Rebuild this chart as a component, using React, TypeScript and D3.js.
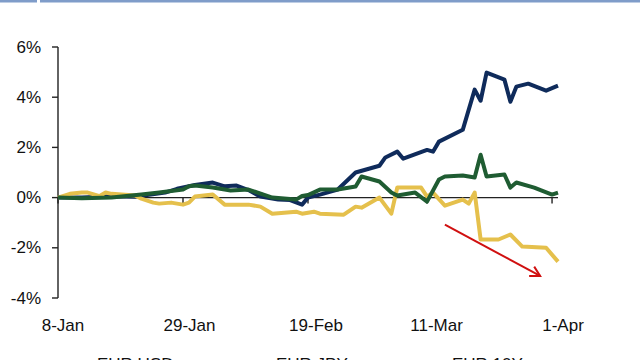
import React from "react";
import * as d3 from "d3";

const seriesNames = ["EUR USD", "EUR JPY", "EUR 10Y"];
const seriesColors = ["#0f2b5b", "#1f5c32", "#e5c04c"];

const xTickLabels = ["2019-01-08", "2019-01-29", "2019-02-19", "2019-03-11", "2019-04-01"];
const yTicks = [-4, -2, 0, 2, 4, 6];

const usdPoints: [string, number][] = [
  ["2019-01-08", 0], ["2019-01-12", 0.0], ["2019-01-17", 0.05], ["2019-01-21", 0.03],
  ["2019-01-23", 0.1], ["2019-01-26", 0.2], ["2019-01-28", 0.35], ["2019-01-31", 0.5],
  ["2019-02-03", 0.6], ["2019-02-05", 0.45], ["2019-02-07", 0.48], ["2019-02-09", 0.3],
  ["2019-02-11", 0.04], ["2019-02-14", -0.08], ["2019-02-16", -0.1], ["2019-02-18", -0.28],
  ["2019-02-19", 0.0], ["2019-02-21", 0.12], ["2019-02-24", 0.32], ["2019-02-27", 1.0],
  ["2019-03-03", 1.27], ["2019-03-04", 1.6], ["2019-03-06", 1.83], ["2019-03-07", 1.55],
  ["2019-03-11", 1.9], ["2019-03-12", 1.83], ["2019-03-13", 2.23], ["2019-03-17", 2.7],
  ["2019-03-19", 4.3], ["2019-03-20", 3.86], ["2019-03-21", 4.98], ["2019-03-24", 4.7],
  ["2019-03-25", 3.82], ["2019-03-26", 4.42], ["2019-03-28", 4.54], ["2019-03-31", 4.26],
  ["2019-04-02", 4.46],
];

const jpyPoints: [string, number][] = [
  ["2019-01-08", 0], ["2019-01-12", -0.03], ["2019-01-17", 0.0], ["2019-01-22", 0.12],
  ["2019-01-25", 0.2], ["2019-01-29", 0.32], ["2019-01-30", 0.45], ["2019-01-31", 0.48],
  ["2019-02-03", 0.4], ["2019-02-06", 0.28], ["2019-02-09", 0.32], ["2019-02-13", 0.0],
  ["2019-02-17", -0.08], ["2019-02-18", 0.06], ["2019-02-19", 0.1], ["2019-02-21", 0.32],
  ["2019-02-24", 0.32], ["2019-02-27", 0.44], ["2019-02-28", 0.84], ["2019-03-03", 0.64],
  ["2019-03-05", 0.2], ["2019-03-06", 0.08], ["2019-03-09", 0.2], ["2019-03-11", -0.16],
  ["2019-03-13", 0.72], ["2019-03-14", 0.84], ["2019-03-17", 0.88], ["2019-03-19", 0.8],
  ["2019-03-20", 1.71], ["2019-03-21", 0.84], ["2019-03-24", 0.92], ["2019-03-25", 0.4],
  ["2019-03-26", 0.6], ["2019-03-29", 0.4], ["2019-04-01", 0.12], ["2019-04-02", 0.2],
];

const tenYPoints: [string, number][] = [
  ["2019-01-08", 0], ["2019-01-10", 0.15], ["2019-01-12", 0.2], ["2019-01-13", 0.2],
  ["2019-01-15", 0.06], ["2019-01-16", 0.2], ["2019-01-17", 0.15], ["2019-01-21", 0.08],
  ["2019-01-22", -0.04], ["2019-01-24", -0.2], ["2019-01-25", -0.24], ["2019-01-27", -0.2],
  ["2019-01-29", -0.28], ["2019-01-30", -0.2], ["2019-01-31", 0.04], ["2019-02-03", 0.12],
  ["2019-02-05", -0.28], ["2019-02-09", -0.28], ["2019-02-11", -0.36], ["2019-02-13", -0.64],
  ["2019-02-15", -0.6], ["2019-02-17", -0.56], ["2019-02-18", -0.64], ["2019-02-20", -0.56],
  ["2019-02-21", -0.64], ["2019-02-25", -0.68], ["2019-02-27", -0.36], ["2019-02-28", -0.4],
  ["2019-03-03", 0.0], ["2019-03-05", -0.64], ["2019-03-06", 0.4], ["2019-03-10", 0.4],
  ["2019-03-11", 0.04], ["2019-03-12", 0.2], ["2019-03-14", -0.32], ["2019-03-17", -0.08],
  ["2019-03-18", -0.24], ["2019-03-19", 0.2], ["2019-03-20", -1.67], ["2019-03-23", -1.67],
  ["2019-03-25", -1.47], ["2019-03-27", -1.95], ["2019-03-31", -2.0], ["2019-04-02", -2.55],
];

const arrowFrom: [string, number] = ["2019-03-14", -1.08];
const arrowTo: [string, number] = ["2019-03-30", -3.12];

const parse = d3.utcParse("%Y-%m-%d");
const fmt = d3.utcFormat("%-d-%b");

export default function App() {
  const W = 640, H = 360;
  const x = d3.scaleUtc()
    .domain([parse("2019-01-08")!, parse("2019-04-02")!])
    .range([58, 558]);
  const y = d3.scaleLinear().domain([-4, 6]).range([298, 47]);
  const line = d3.line<[string, number]>()
    .x(d => x(parse(d[0])!))
    .y(d => y(d[1]));

  const series = [usdPoints, jpyPoints, tenYPoints];
  const drawOrder = [0, 2, 1];

  const ax0 = x(parse(arrowFrom[0])!), ay0 = y(arrowFrom[1]);
  const ax1 = x(parse(arrowTo[0])!), ay1 = y(arrowTo[1]);
  const ang = Math.atan2(ay1 - ay0, ax1 - ax0);
  const headLen = 11, headAng = Math.PI / 6.2;
  const h1 = [ax1 - headLen * Math.cos(ang - headAng), ay1 - headLen * Math.sin(ang - headAng)];
  const h2 = [ax1 - headLen * Math.cos(ang + headAng), ay1 - headLen * Math.sin(ang + headAng)];

  const font = "'Liberation Sans', Arial, sans-serif";
  const legendX = [97, 276, 452];

  return (
    <svg width={W} height={H} style={{ position: "absolute", left: 0, top: 0, background: "#fff" }}>
      <rect x={0} y={0} width={37} height={2.5} fill="#7f9cc9" />
      <rect x={40} y={0} width={600} height={2.5} fill="#7f9cc9" />

      {/* y axis */}
      <line x1={58} x2={58} y1={y(6)} y2={y(-4)} stroke="#222" strokeWidth={1.4} />
      {yTicks.map(t => (
        <g key={t}>
          <line x1={52} x2={58} y1={y(t)} y2={y(t)} stroke="#222" strokeWidth={1.4} />
          <text x={41} y={y(t)} textAnchor="end" dominantBaseline="central"
            fontFamily={font} fontSize={17} fill="#111">{t}%</text>
        </g>
      ))}

      {/* x axis */}
      <line x1={58} x2={558} y1={y(0)} y2={y(0)} stroke="#222" strokeWidth={1.4} />
      {xTickLabels.map((s, i) => {
        const xx = x(parse(s)!);
        return (
          <g key={s}>
            <line x1={xx} x2={xx} y1={y(0)} y2={y(0) + 6} stroke="#222" strokeWidth={1.4} />
            <text x={xx + 5 + i * 1.5} y={331} textAnchor="middle"
              fontFamily={font} fontSize={17} fill="#111">{fmt(parse(s)!)}</text>
          </g>
        );
      })}

      {drawOrder.map(i => (
        <path key={i} d={line(series[i]) || ""} fill="none" stroke={seriesColors[i]}
          strokeWidth={4} strokeLinejoin="round" />
      ))}

      {/* annotation arrow */}
      <line x1={ax0} y1={ay0} x2={ax1} y2={ay1} stroke="#d01010" strokeWidth={2} />
      <polyline points={`${h1[0]},${h1[1]} ${ax1},${ay1} ${h2[0]},${h2[1]}`}
        fill="none" stroke="#d01010" strokeWidth={2} />

      {/* legend (cut off at bottom) */}
      {seriesNames.map((n, i) => (
        <text key={n} x={legendX[i]} y={370} fontFamily={font} fontSize={17} fill="#111">{n}</text>
      ))}
    </svg>
  );
}
